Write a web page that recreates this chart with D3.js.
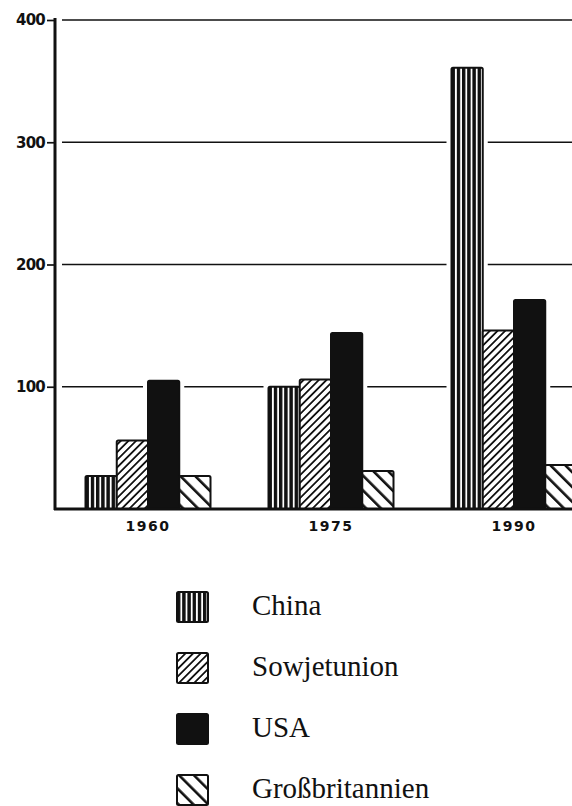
<!DOCTYPE html>
<html>
<head>
<meta charset="utf-8">
<script src="https://cdn.jsdelivr.net/npm/d3@7"></script>
<style>
  body { margin: 0; background: #fff; }
</style>
</head>
<body>
<div class="chart"></div>
<script>
// data
const years = ['1960', '1975', '1990'];
const countries = ['China', 'Sowjetunion', 'USA', 'Großbritannien'];
const china = [27, 100, 361];
const sowjet = [56, 106, 146];
const usa = [105, 144, 171];
const gb = [27, 31, 36];
const yTicks = [100, 200, 300, 400];

const seriesValues = [china, sowjet, usa, gb];
const fills = ['url(#vstripes)', 'url(#hatchUp)', '#111', 'url(#hatchDown)'];

const width = 572, height = 806;
const axisX = 55, baseY = 509, topY = 20;

const svg = d3.select('.chart')
    .append('svg')
    .attr('width', width)
    .attr('height', height);

// patterns
const defs = svg.append('defs');
const vp = defs.append('pattern')
    .attr('id', 'vstripes')
    .attr('patternUnits', 'userSpaceOnUse')
    .attr('width', 5.2)
    .attr('height', 10);
vp.append('rect').attr('width', 5.2).attr('height', 10).attr('fill', '#fff');
vp.append('rect').attr('width', 3.4).attr('height', 10).attr('fill', '#111');

const up = defs.append('pattern')
    .attr('id', 'hatchUp')
    .attr('patternUnits', 'userSpaceOnUse')
    .attr('width', 5.4)
    .attr('height', 10)
    .attr('patternTransform', 'rotate(45)');
up.append('rect').attr('width', 5.4).attr('height', 10).attr('fill', '#fff');
up.append('rect').attr('width', 1.8).attr('height', 10).attr('fill', '#111');

const down = defs.append('pattern')
    .attr('id', 'hatchDown')
    .attr('patternUnits', 'userSpaceOnUse')
    .attr('width', 10.5)
    .attr('height', 10)
    .attr('patternTransform', 'rotate(-45)');
down.append('rect').attr('width', 10.5).attr('height', 10).attr('fill', '#fff');
down.append('rect').attr('width', 2.6).attr('height', 10).attr('fill', '#111');

// scales
const x0 = d3.scaleBand()
    .domain(years)
    .range([56.5, 56.5 + 183 * 3]);
const x1 = d3.scaleBand()
    .domain(countries)
    .range([-62.5, 62.5]);
const y = d3.scaleLinear()
    .domain([0, 400])
    .range([baseY, topY]);

// gridlines
svg.append('g')
    .selectAll('line')
    .data(yTicks)
    .enter()
    .append('line')
    .attr('x1', 62)
    .attr('x2', width)
    .attr('y1', d => y(d))
    .attr('y2', d => y(d))
    .attr('stroke', '#111')
    .attr('stroke-width', 1.7);

// bars
const groups = svg.append('g')
    .selectAll('g')
    .data(years)
    .enter()
    .append('g')
    .attr('transform', d => 'translate(' + (x0(d) + x0.bandwidth() / 2) + ',0)');

const barData = (d, i) => countries.map((c, k) => ({ country: c, k: k, value: seriesValues[k][i] }));

// white halo behind bars to break the gridlines
groups.selectAll('.halo')
    .data(barData)
    .enter()
    .append('rect')
    .attr('class', 'halo')
    .attr('x', d => x1(d.country) - 5)
    .attr('width', x1.bandwidth() + 10)
    .attr('y', d => y(d.value) - 5)
    .attr('height', d => baseY - y(d.value) + 5)
    .attr('fill', '#fff');

groups.selectAll('.bar')
    .data(barData)
    .enter()
    .append('rect')
    .attr('class', 'bar')
    .attr('x', d => x1(d.country))
    .attr('width', x1.bandwidth())
    .attr('y', d => y(d.value))
    .attr('height', d => baseY - y(d.value))
    .attr('rx', 1.5)
    .attr('fill', d => fills[d.k])
    .attr('stroke', '#111')
    .attr('stroke-width', 2);

// axes
svg.append('line')
    .attr('x1', axisX).attr('x2', axisX)
    .attr('y1', topY - 2).attr('y2', baseY + 1)
    .attr('stroke', '#111')
    .attr('stroke-width', 3);
svg.append('line')
    .attr('x1', axisX - 1).attr('x2', width)
    .attr('y1', baseY).attr('y2', baseY)
    .attr('stroke', '#111')
    .attr('stroke-width', 3);

const yAxis = d3.axisLeft(y)
    .tickValues(yTicks)
    .tickSize(8)
    .tickPadding(2);
const ya = svg.append('g')
    .attr('transform', 'translate(' + axisX + ',0)')
    .call(yAxis);
ya.select('.domain').remove();
ya.selectAll('line').attr('stroke', '#111').attr('stroke-width', 1.7);
ya.selectAll('text')
    .attr('fill', '#111')
    .style('font-family', 'DejaVu Sans')
    .style('font-weight', 'bold')
    .style('font-size', '15px')
    .style('letter-spacing', '-0.8px');

const xAxis = d3.axisBottom(x0)
    .tickSize(0)
    .tickPadding(12);
const xa = svg.append('g')
    .attr('transform', 'translate(0,' + baseY + ')')
    .call(xAxis);
xa.select('.domain').remove();
xa.selectAll('text')
    .attr('fill', '#111')
    .style('font-family', 'DejaVu Sans')
    .style('font-weight', 'bold')
    .style('font-size', '14px')
    .style('letter-spacing', '1.5px');

// legend
const legend = svg.append('g')
    .selectAll('g')
    .data(countries)
    .enter()
    .append('g')
    .attr('transform', (d, i) => 'translate(177,' + (592 + i * 61) + ')');
legend.append('rect')
    .attr('width', 31)
    .attr('height', 30)
    .attr('rx', 1.5)
    .attr('fill', (d, i) => fills[i])
    .attr('stroke', '#111')
    .attr('stroke-width', 2);
legend.append('text')
    .attr('x', 75)
    .attr('y', 23)
    .attr('fill', '#111')
    .style('font-family', 'Liberation Serif')
    .style('font-size', '29px')
    .text(d => d);
</script>
</body>
</html>
